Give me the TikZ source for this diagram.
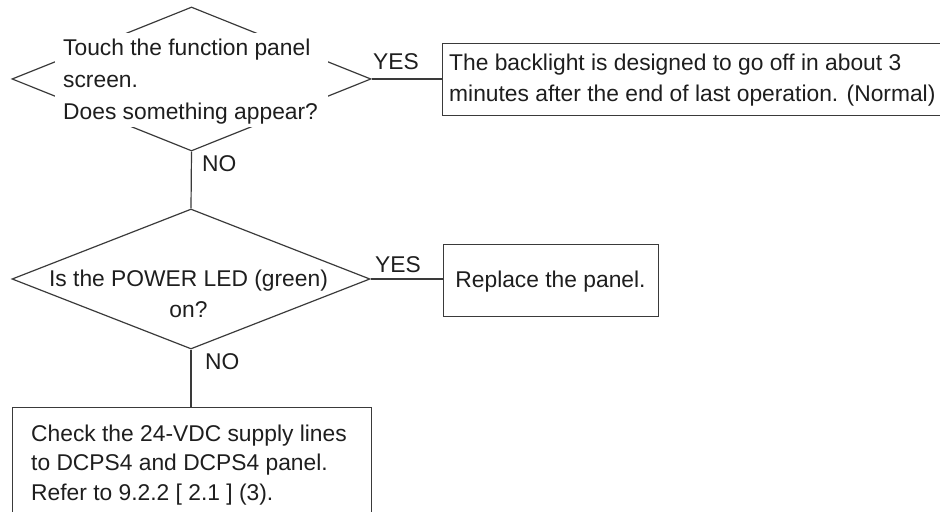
\documentclass[tikz,border=0pt]{standalone}
\usepackage{fontspec}
\setmainfont{Liberation Sans}
\usetikzlibrary{shapes.geometric}
\definecolor{ln}{HTML}{3A3A3A}
\definecolor{tx}{HTML}{1E1E1E}
\begin{document}
\begin{tikzpicture}[x=1bp,y=-1bp,
  every node/.style={text=tx, font=\fontsize{22.8bp}{31.8bp}\selectfont},
  dec/.style={diamond, draw=ln, line width=1.2bp, inner sep=0pt},
  box/.style={draw=ln, line width=1.2bp, inner sep=0pt, anchor=north west},
  conn/.style={draw=ln, line width=1.2bp},
  lbl/.style={inner sep=0pt, anchor=base west},
  txt/.style={inner sep=0pt, anchor=base west, align=left}]
\useasboundingbox (0,0) rectangle (940,512);
\clip (0,0) rectangle (940,512);
% decision 1
\node[dec, minimum width=359bp, minimum height=144bp] (d1) at (191.5,79) {};
\node[fill=white, inner sep=0pt, minimum width=273bp, minimum height=94bp] (t1bg) at (191.5,80) {};
\node[txt] (t1) at (63,119.5) {Touch the function panel\\screen.\\Does something appear?};
% box 1
\node[box, minimum width=503bp, minimum height=72bp] (b1) at (442,43) {};
\node[txt] (b1t) at (449,102) {The backlight is designed to go off in about 3\\minutes after the end of last operation. (Normal)};
% decision 2
\node[dec, minimum width=358bp, minimum height=140bp] (d2) at (191,279) {};
\node[inner sep=0pt, anchor=base, align=center] (t2) at (188.5,318) {Is the POWER LED (green)\\on?};
% box 2
\node[box, minimum width=215bp, minimum height=72bp] (b2) at (443,244) {};
\node[inner sep=0pt, anchor=base] (b2t) at (550.5,288) {Replace the panel.};
% box 3
\node[box, minimum width=359bp, minimum height=125bp] (b3) at (12,407) {};
\node[txt, font=\fontsize{22.8bp}{29.5bp}\selectfont] (b3t) at (31,500) {Check the 24-VDC supply lines\\to DCPS4 and DCPS4 panel.\\Refer to 9.2.2 [ 2.1 ] (3).};
% connectors
\draw[conn] (d1.east) -- (b1.west |- d1.east);
\draw[conn] (d1.south) -- (d2.north);
\draw[conn] (d2.east) -- (b2.west |- d2.east);
\draw[conn] (d2.south) -- (b3.north -| d2.south);
% labels
\node[lbl] (yes1) at (373,70) {YES};
\node[lbl] (no1) at (202,172) {NO};
\node[lbl] (yes2) at (375,273) {YES};
\node[lbl] (no2) at (205,370) {NO};
\end{tikzpicture}
\end{document}
